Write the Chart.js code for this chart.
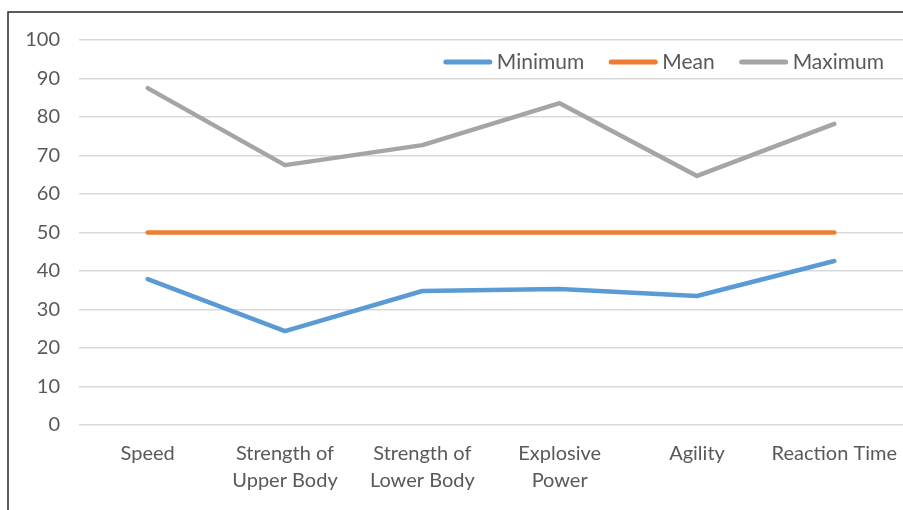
<!DOCTYPE html>
<html><head><meta charset="utf-8">
<script src="https://cdn.jsdelivr.net/npm/chart.js@4/dist/chart.umd.min.js"></script>
<style>html,body{margin:0;padding:0;background:#fff;}#wrap{position:relative;width:903px;height:510px;}</style>
</head><body><div id="wrap"><canvas id="c" width="903" height="510"></canvas></div>
<script>
const categories = [["Speed"], ["Strength of", "Upper Body"], ["Strength of", "Lower Body"], ["Explosive", "Power"], ["Agility"], ["Reaction Time"]];
const minimum = [37.9, 24.4, 34.8, 35.3, 33.5, 42.6];
const mean = [50, 50, 50, 50, 50, 50];
const maximum = [87.5, 67.5, 72.7, 83.6, 64.7, 78.2];
const yTicks = [0, 10, 20, 30, 40, 50, 60, 70, 80, 90, 100];

const FONT = "Lato, 'Open Sans', sans-serif";
const TXT = '#595959';
const FS = 20;

const borderPlugin = {
  id: 'frame',
  beforeDraw(chart) {
    const ctx = chart.ctx;
    ctx.save();
    ctx.fillStyle = '#fff';
    ctx.fillRect(0, 0, chart.width, chart.height);
    ctx.strokeStyle = '#262626';
    ctx.lineWidth = 1.5;
    ctx.beginPath();
    ctx.moveTo(8, 520);
    ctx.lineTo(8, 12);
    ctx.lineTo(910, 12);
    ctx.stroke();
    ctx.restore();
  }
};

// Legend drawn inside the plot area, right-aligned, from the chart's own datasets
const legendPlugin = {
  id: 'innerLegend',
  afterDatasetsDraw(chart) {
    const ctx = chart.ctx;
    const area = chart.chartArea;
    ctx.save();
    ctx.font = '21px ' + FONT;
    ctx.textBaseline = 'middle';
    ctx.textAlign = 'left';
    const cy = area.top + 22;
    let x = area.right - 19;
    const items = chart.data.datasets.slice().reverse();
    items.forEach(d => {
      const w = ctx.measureText(d.label).width;
      const tx = x - w;
      ctx.fillStyle = TXT;
      ctx.fillText(d.label, tx, cy);
      const bx = tx - 5 - 48;
      ctx.strokeStyle = d.borderColor;
      ctx.lineWidth = 5;
      ctx.lineCap = 'round';
      ctx.beginPath();
      ctx.moveTo(bx + 2, cy);
      ctx.lineTo(bx + 48 - 2, cy);
      ctx.stroke();
      x = bx - 25;
    });
    ctx.restore();
  }
};

const ds = (label, data, color) => ({
  label, data, borderColor: color, backgroundColor: color,
  borderWidth: 4.5, pointRadius: 0, pointHoverRadius: 0, tension: 0,
  borderCapStyle: 'round', borderJoinStyle: 'round', fill: false
});

new Chart(document.getElementById('c'), {
  type: 'line',
  data: {
    labels: categories,
    datasets: [
      ds('Minimum', minimum, '#5b9bd5'),
      ds('Mean', mean, '#ed7d31'),
      ds('Maximum', maximum, '#a5a5a5')
    ]
  },
  options: {
    responsive: false,
    animation: false,
    layout: { padding: { top: 40, right: 0, bottom: 0, left: 0 } },
    plugins: {
      tooltip: { enabled: false },
      legend: { display: false }
    },
    scales: {
      x: {
        offset: true,
        afterFit(scale) { scale.height = 85; scale.paddingLeft = 0; scale.paddingRight = 0; },
        grid: { display: false, drawTicks: false },
        border: { display: false },
        ticks: { color: TXT, font: { family: FONT, size: FS, lineHeight: 1.35 }, padding: 15, maxRotation: 0, autoSkip: false }
      },
      y: {
        min: 0, max: 100,
        afterBuildTicks(scale) { scale.ticks = yTicks.map(v => ({ value: v })); },
        afterFit(scale) { scale.width = 79; },
        grid: { color: '#d9d9d9', lineWidth: 1.5, drawTicks: false },
        border: { display: false },
        ticks: { color: TXT, font: { family: FONT, size: FS }, padding: 19 }
      }
    }
  },
  plugins: [borderPlugin, legendPlugin]
});
</script></body></html>
